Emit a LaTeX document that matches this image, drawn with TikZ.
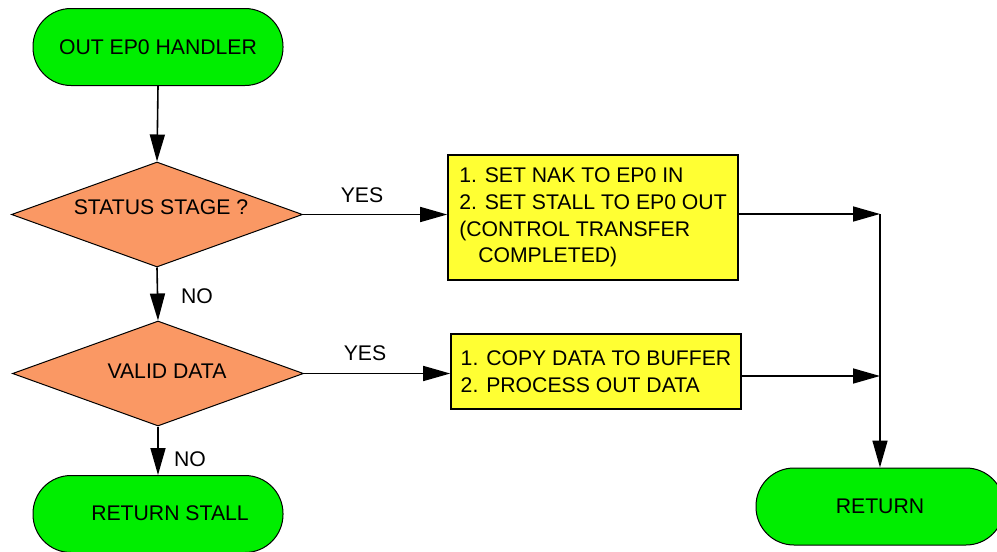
\documentclass[tikz,border=0pt]{standalone}
\usepackage{fontspec}
\setmainfont{Liberation Sans}
\usetikzlibrary{arrows.meta,shapes.geometric}
\definecolor{termgreen}{RGB}{0,238,0}
\definecolor{decorange}{RGB}{250,152,100}
\definecolor{boxyellow}{RGB}{255,255,51}
\begin{document}
\begin{tikzpicture}[x=1pt,y=-1pt,font=\fontsize{21.2}{26.7}\selectfont,
  term/.style={draw, fill=termgreen, rounded corners=38pt, minimum width=250pt, minimum height=77pt, line width=1pt},
  dec/.style={draw, fill=decorange, diamond, minimum width=291pt, minimum height=105pt, inner sep=0pt, line width=1pt},
  act/.style={draw, fill=boxyellow, minimum width=290pt, align=left, line width=1.6pt},
  flow/.style={line width=1.6pt, -{Triangle[length=27pt,width=15pt]}},
  lbl/.style={inner sep=0pt}]
\useasboundingbox (0,0) rectangle (997,552);
\node[term] (start) at (158,47) {OUT EP0 HANDLER};
\node[dec] (d1) at (157,214.5) {};
\node[lbl] (d1t) at (161,207) {STATUS STAGE ?};
\node[dec] (d2) at (158,373.5) {};
\node[lbl] (d2t) at (167,371) {VALID DATA};
\node[term] (stall) at (158,514) {};
\node[lbl] (stallt) at (170,513) {RETURN STALL};
\node[act, minimum height=125pt] (b1) at (593,217.5) {1. SET NAK TO EP0 IN\\2. SET STALL TO EP0 OUT\\(CONTROL TRANSFER\\\hspace*{19pt}COMPLETED)};
\node[act, minimum height=75pt] (b2) at (596,371.5) {1. COPY DATA TO BUFFER\\2. PROCESS OUT DATA};
\node[term, minimum width=248pt] (ret) at (880,506.5) {RETURN};
\coordinate (j1) at (880,214);
\coordinate (j2) at (880,376);
\draw[flow] (start.south) -- (d1.north);
\draw[flow] (d1.east) -- (d1.east -| b1.west);
\node[lbl] (yes1) at (362,195) {YES};
\draw[flow] (d1.south) -- (d2.north);
\node[lbl] (no1) at (197,296) {NO};
\draw[flow] (d2.east) -- (d2.east -| b2.west);
\node[lbl] (yes2) at (365,353) {YES};
\draw[flow] (d2.south) -- (stall.north);
\node[lbl] (no2) at (190,459) {NO};
\draw[flow] (b1.east |- j1) -- (j1);
\draw[flow] (b2.east |- j2) -- (j2);
\draw[flow] (j1) -- (ret.north);
\end{tikzpicture}
\end{document}
